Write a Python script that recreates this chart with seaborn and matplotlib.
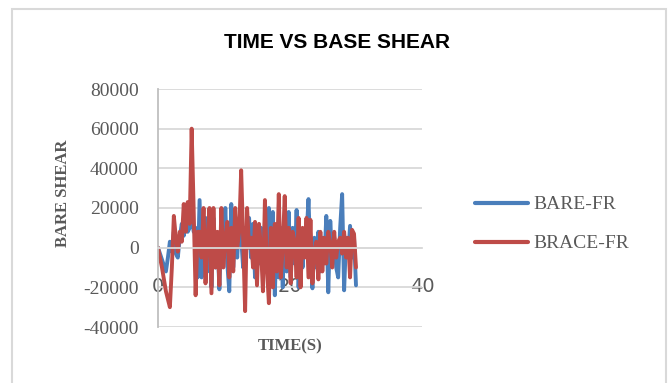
import matplotlib
matplotlib.use("Agg")
import matplotlib.pyplot as plt
import seaborn as sns
import pandas as pd
from matplotlib.patches import Rectangle

time_s = [0.0, 0.3, 0.6, 0.9, 1.2, 1.5, 1.8, 2.1, 2.4, 2.7,
          3.0, 3.3, 3.6, 3.9, 4.2, 4.5, 4.8, 5.1, 5.4, 5.7,
          6.0, 6.3, 6.6, 6.9, 7.2, 7.5, 7.8, 8.1, 8.4, 8.7,
          9.0, 9.3, 9.6, 9.9, 10.2, 10.5, 10.8, 11.1, 11.4, 11.7,
          12.0, 12.3, 12.6, 12.9, 13.2, 13.5, 13.8, 14.1, 14.4, 14.7,
          15.0, 15.3, 15.6, 15.9, 16.2, 16.5, 16.8, 17.1, 17.4, 17.7,
          18.0, 18.3, 18.6, 18.9, 19.2, 19.5, 19.8, 20.1, 20.4, 20.7,
          21.0, 21.3, 21.6, 21.9, 22.2, 22.5, 22.8, 23.1, 23.4, 23.7,
          24.0, 24.3, 24.6, 24.9, 25.2, 25.5, 25.8, 26.1, 26.4, 26.7,
          27.0, 27.3, 27.6, 27.9, 28.2, 28.5, 28.8, 29.1, 29.4, 29.7,
          30.0]

bare_fr = [0, -3000, -6000, -9000, -12000, -5000, 3000, -2000, 8000, -3000,
           -5000, 5000, 12000, 6000, 15000, 8000, 10000, 18000, 8000, 10000,
           -15000, 24000, -15000, 5000, 15000, -12000, 18000, -20000, 15000, -10000,
           5000, -21000, 10000, -5000, 20000, -8000, -22000, 22000, -10000, 10000,
           -5000, 15000, 5000, -10000, 10000, 0, 15000, -5000, 12000, -15000,
           5000, -8000, 10000, -12000, 13000, -5000, 20000, -10000, 18000, -24000,
           10000, -15000, 10000, -20000, 15000, -12000, 18000, -15000, 10000, -8000,
           19000, -20000, 8000, -10000, 5000, 5000, 24500, -5000, -20500, 5000,
           -10000, 8000, -12000, 5000, -8000, 16000, -22500, 13500, -5000, 5000,
           -10000, -15000, 10000, 27000, -21500, 5000, -5000, 11000, -5000, 5000,
           -19000]

brace_fr = [0, -5000, -10000, -16000, -22000, -26000, -30000, -10000, 16000, 5000,
            -2000, 8000, 3000, 22000, 8000, 23000, 12000, 60000, 20000, -24000,
            8000, 8000, -5000, 20000, -18000, 5000, 20000, -23000, 20000, -10000,
            8000, -19000, 20000, -10000, 5000, 13000, -15000, 10000, -12000, 20000,
            0, 8000, 39000, 5000, -32000, 20000, 0, 5000, -10000, 13000,
            -19000, 12000, 0, -22000, 24000, -10000, -28000, 10000, -20000, 12000,
            -12000, 27000, -15000, 0, 26000, -10000, 10000, -18000, 8000, 3000,
            -15000, 15000, -20000, 10000, -5000, 15000, -15000, 14000, -18000, -2000,
            3000, -16000, 8000, -12000, 5000, -8000, 8000, 2000, -10000, 8000,
            -5000, 3000, 5000, -3000, 8000, -5000, 5000, -15000, 9000, 7000,
            -10000]

series_names = ["BARE-FR", "BRACE-FR"]
y_ticks = [-40000, -20000, 0, 20000, 40000, 60000, 80000]
x_ticks = [0, 20, 40]

df = pd.concat([
    pd.DataFrame({"TIME": time_s, "SHEAR": bare_fr, "series": series_names[0]}),
    pd.DataFrame({"TIME": time_s, "SHEAR": brace_fr, "series": series_names[1]}),
])

sns.set_style("white")
fig = plt.figure(figsize=(6.7, 3.83), dpi=100)
ax = fig.add_axes([158 / 670, 1 - 327 / 383, (422 - 158) / 670, (327 - 89) / 383])

sns.lineplot(data=df, x="TIME", y="SHEAR", hue="series", hue_order=series_names,
             palette={"BARE-FR": "#4A7EBB", "BRACE-FR": "#BE4B48"},
             linewidth=2.8, ax=ax, legend=True, sort=False)

ax.set_xlim(0, 40)
ax.set_ylim(-40000, 80000)
ax.set_yticks(y_ticks)
ax.set_xticks(x_ticks)
ax.set_yticklabels([str(v) for v in y_ticks])
ax.set_xticklabels([str(v) for v in x_ticks])
ax.tick_params(axis="y", length=0, pad=14, labelsize=14, labelcolor="#595959")
ax.tick_params(axis="x", length=0, pad=21, labelsize=14, labelcolor="#595959")
for lab in ax.get_yticklabels():
    lab.set_fontfamily("Liberation Serif")
for lab in ax.get_xticklabels():
    lab.set_fontfamily("Liberation Sans")
ax.grid(axis="y", color="#D9D9D9", linewidth=1.3)
ax.set_axisbelow(True)
for s in ["top", "right"]:
    ax.spines[s].set_visible(False)
ax.spines["bottom"].set_position(("data", 0))
ax.spines["bottom"].set_color("#D9D9D9")
ax.spines["bottom"].set_linewidth(1.3)
ax.spines["left"].set_color("#BFBFBF")
ax.spines["left"].set_linewidth(1.3)

ax.set_xlabel("")
ax.set_ylabel("")
fig.text(63 / 670, 1 - 193 / 383, "BARE SHEAR", rotation=90, ha="center", va="center",
         family="Liberation Serif", fontweight="bold", fontsize=12, color="#595959")
fig.text(290 / 670, 1 - 346 / 383, "TIME(S)", ha="center", va="center",
         family="Liberation Serif", fontweight="bold", fontsize=12, color="#595959")
fig.text(337 / 670, 1 - 42 / 383, "TIME VS BASE SHEAR", ha="center", va="center",
         family="Liberation Sans", fontweight="bold", fontsize=15, color="#000000")

handles, labels = ax.get_legend_handles_labels()
ax.legend_.remove()
leg = fig.legend(handles, labels, loc="center left",
                 bbox_to_anchor=(458 / 670, 1 - 224 / 383), frameon=False,
                 prop={"family": "Liberation Serif", "size": 14},
                 handlelength=2.7, handletextpad=0.3, labelspacing=1.1)
for t in leg.get_texts():
    t.set_color("#595959")
for h in leg.get_lines():
    h.set_linewidth(3)

fig.patches.append(Rectangle((12 / 670, -0.05), (666 - 12) / 670, 1.05 - 9 / 383,
                             transform=fig.transFigure, fill=False,
                             edgecolor="#D9D9D9", linewidth=1.5))

fig.savefig("out.png", dpi=100)
